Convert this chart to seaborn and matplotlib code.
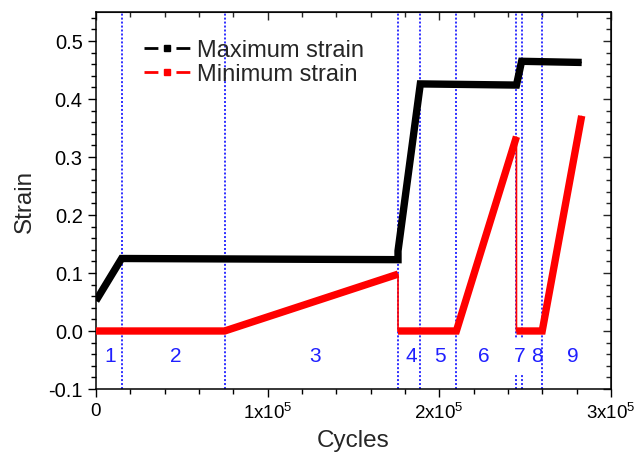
import numpy as np
import pandas as pd
import matplotlib
matplotlib.use("Agg")
import matplotlib.pyplot as plt
from matplotlib.lines import Line2D
import seaborn as sns

# Breakpoints of the strain history (cycles, strain)
max_cycles = [0, 15000, 176000, 176000, 189000, 245000, 248000, 283000]
max_strain = [0.052, 0.125, 0.123, 0.138, 0.426, 0.424, 0.465, 0.463]
max_runs = [0, 0, 0, 0, 0, 0, 0, 0]

min_cycles = [0, 75000, 176000, 176000, 210000, 245000, 245000, 260000, 283000]
min_strain = [0.0, 0.0, 0.098, 0.0, 0.0, 0.335, 0.0, 0.0, 0.371]
min_runs = [0, 0, 0, 1, 1, 1, 2, 2, 2]

# Loading stage boundaries and stage labels
stage_bounds = [15000, 75000, 176000, 189000, 210000, 245000, 248000, 260000]
stage_names = ["1", "2", "3", "4", "5", "6", "7", "8", "9"]
stage_label_x = [8200, 46600, 127500, 183500, 200300, 226000, 247000, 256800, 277800]
stage_label_y = -0.043

xtick_vals = [0, 100000, 200000, 300000]
xtick_text = ["0", r"$\mathregular{1x10^{5}}$", r"$\mathregular{2x10^{5}}$", r"$\mathregular{3x10^{5}}$"]
ytick_vals = [-0.1, 0.0, 0.1, 0.2, 0.3, 0.4, 0.5]

sns.set_style("ticks")
plt.rcParams["font.family"] = ["Liberation Sans", "DejaVu Sans"]
plt.rcParams["axes.unicode_minus"] = False
plt.rcParams["mathtext.default"] = "regular"

df = pd.concat([
    pd.DataFrame({"cycles": max_cycles, "strain": max_strain, "run": max_runs, "series": "Maximum strain"}),
    pd.DataFrame({"cycles": min_cycles, "strain": min_strain, "run": min_runs, "series": "Minimum strain"}),
], ignore_index=True)
df["unit"] = df["series"] + df["run"].astype(str)
colors = {"Maximum strain": "black", "Minimum strain": "#ff0000"}

fig = plt.figure(figsize=(6.35, 4.64), dpi=100)
ax = fig.add_axes([0.151, 0.1595, 0.811, 0.8125])

# Stage boundaries
for xb in stage_bounds:
    ax.axvline(xb, color="#1f1fff", lw=1.3, ls=(0, (1.1, 1.1)), zorder=1)

# Thin connectors (including sudden drops)
for name, sub in df.groupby("series"):
    ax.plot(sub["cycles"], sub["strain"], color=colors[name], lw=1.2, zorder=3)

# Thick data runs
sns.lineplot(data=df, x="cycles", y="strain", hue="series", units="unit",
             estimator=None, sort=False, palette=colors, lw=5.3,
             legend=False, ax=ax, zorder=4)
for ln in ax.lines:
    ln.set_solid_capstyle("butt")
    ln.set_solid_joinstyle("miter")

# Stage numbers
for name, xs in zip(stage_names, stage_label_x):
    kw = {}
    if name == "7":
        kw["bbox"] = dict(boxstyle="square,pad=0.4", fc="white", ec="none")
    ax.text(xs, stage_label_y, name, color="#1f1fff", fontsize=15,
            ha="center", va="center", zorder=2, **kw)

ax.set_xlim(0, 300000)
ax.set_ylim(-0.1, 0.55)
ax.set_xticks(xtick_vals)
ax.set_xticklabels(xtick_text)
ax.set_yticks(ytick_vals)
ax.set_yticklabels([f"{v:.1f}" for v in ytick_vals])
ax.set_xticks(np.arange(0, 300001, 20000), minor=True)
ax.set_yticks(np.arange(-0.1, 0.5501, 0.02), minor=True)
ax.tick_params(which="both", direction="out", width=1.0, colors="black",
               top=False, right=False)
ax.tick_params(axis="y", labelsize=14.5)
ax.tick_params(axis="x", labelsize=13.5)
ax.tick_params(which="major", length=6)
ax.tick_params(which="minor", length=3.5)
for sp in ax.spines.values():
    sp.set_visible(True)
    sp.set_linewidth(1.1)
    sp.set_color("black")

# Mirror ticks pointing inward on the top and right
top = ax.secondary_xaxis("top")
top.set_xticks(xtick_vals)
top.set_xticks(np.arange(0, 300001, 20000), minor=True)
top.tick_params(which="both", direction="in", width=1.0, labeltop=False)
top.tick_params(which="major", length=6)
top.tick_params(which="minor", length=3.5)
top.set_xticklabels([])
right = ax.secondary_yaxis("right")
right.set_yticks(ytick_vals)
right.set_yticks(np.arange(-0.1, 0.5501, 0.02), minor=True)
right.tick_params(which="both", direction="in", width=1.0, labelright=False)
right.tick_params(which="major", length=6)
right.tick_params(which="minor", length=3.5)
right.set_yticklabels([])

ax.set_xlabel("Cycles", fontsize=17.5, labelpad=5)
ax.set_ylabel("Strain", fontsize=17.5, labelpad=9)

handles = [Line2D([0], [0], color=colors[s], lw=2, ls=(0, (5, 6.5)), marker="s",
                  markersize=4.5, markeredgecolor=colors[s], markerfacecolor=colors[s])
           for s in ["Maximum strain", "Minimum strain"]]
ax.legend(handles, ["Maximum strain", "Minimum strain"], loc="upper left",
          bbox_to_anchor=(0.052, 0.985), frameon=False, fontsize=17,
          handlelength=1.95, handletextpad=0.3, labelspacing=0.1, numpoints=1)

fig.savefig("out.png", dpi=100)
